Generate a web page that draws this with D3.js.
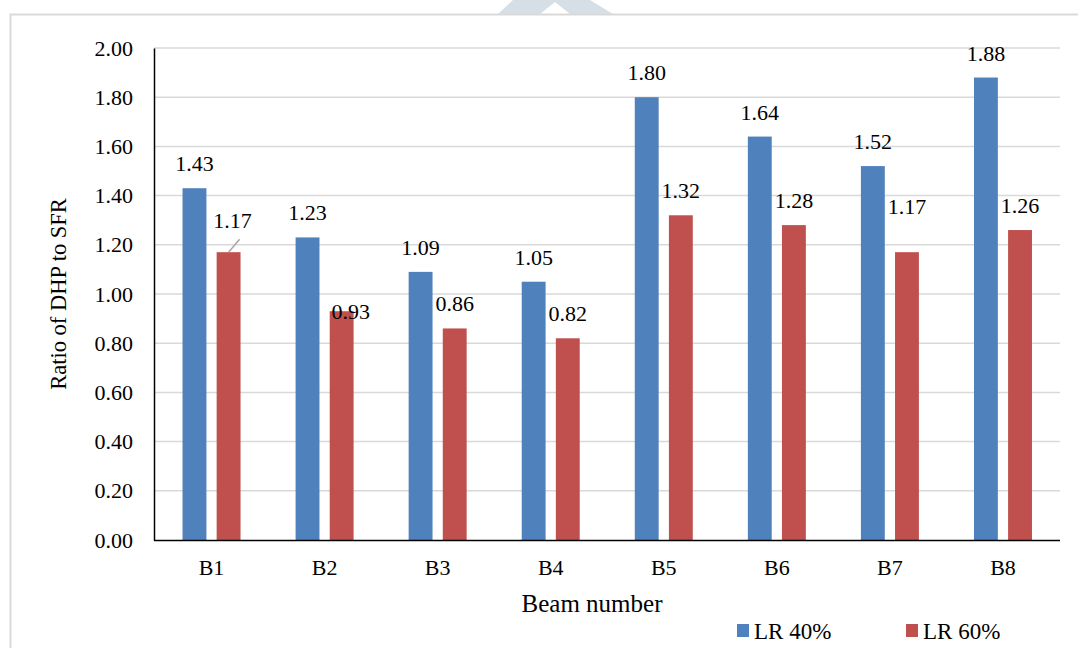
<!DOCTYPE html>
<html>
<head>
<meta charset="utf-8">
<script src="https://cdn.jsdelivr.net/npm/d3@7"></script>
<style>
  html, body { margin: 0; padding: 0; background: #fff; }
  svg { display: block; }
  text { font-family: "Liberation Serif", "Times New Roman", serif; fill: #000; }
</style>
</head>
<body>
<svg id="chart" width="1078" height="648"></svg>
<script>
// Ratio of DHP to SFR for each beam, at two load ratios
const beams = ["B1", "B2", "B3", "B4", "B5", "B6", "B7", "B8"];
const seriesNames = ["LR 40%", "LR 60%"];
const lr40 = [1.43, 1.23, 1.09, 1.05, 1.80, 1.64, 1.52, 1.88];
const lr60 = [1.17, 0.93, 0.86, 0.82, 1.32, 1.28, 1.17, 1.26];
const yTicks = [0, 0.2, 0.4, 0.6, 0.8, 1.0, 1.2, 1.4, 1.6, 1.8, 2.0];

const colors = { "LR 40%": "#4f81bd", "LR 60%": "#c0504d" };

// labels that were dragged away from their default spot: [series, beam] -> shift
const labelShift = {
  "LR 60%|B1": { dx: 4, dy: -7, leader: true },
  "LR 60%|B2": { dx: 9, dy: 25 },
  "LR 60%|B7": { dx: 0, dy: -21 }
};

const rows = beams.map((b, i) => ({ beam: b, values: [lr40[i], lr60[i]] }));

const svg = d3.select("#chart");

// outer frame and faint emblem at the top
svg.append("polygon")
  .attr("points", "498,14 513,0 590,0 613,14 570,14 555,2 540,14")
  .attr("fill", "#d6dfe5");
svg.append("path")
  .attr("d", "M10.5,648 V14.5 H1078")
  .attr("fill", "none").attr("stroke", "#d9d9d9").attr("stroke-width", 2);

const x0 = d3.scaleBand().domain(beams).range([155, 1059.5]).padding(0);
const x1 = d3.scaleBand().domain(seriesNames).range([-29, 29]).paddingInner(0.3);
const y = d3.scaleLinear().domain([0, 2]).range([540, 48]);

// gridlines
svg.append("g")
  .selectAll("line")
  .data(yTicks.slice(1))
  .join("line")
  .attr("x1", 154).attr("x2", 1060)
  .attr("y1", d => y(d)).attr("y2", d => y(d))
  .attr("stroke", "#d9d9d9").attr("stroke-width", 1.5);

// bars
const groups = svg.append("g")
  .selectAll("g")
  .data(rows)
  .join("g")
  .attr("transform", d => `translate(${x0(d.beam) + x0.bandwidth() / 2},0)`);

groups.selectAll("rect")
  .data(d => d.values.map((v, k) => ({ beam: d.beam, series: seriesNames[k], value: v })))
  .join("rect")
  .attr("x", d => x1(d.series))
  .attr("width", x1.bandwidth())
  .attr("y", d => y(d.value))
  .attr("height", d => y(0) - y(d.value))
  .attr("fill", d => colors[d.series]);

// value labels
groups.each(function (row) {
  const g = d3.select(this);
  row.values.forEach((v, k) => {
    const s = seriesNames[k];
    const sh = labelShift[s + "|" + row.beam] || { dx: 0, dy: 0 };
    const barCx = x1(s) + x1.bandwidth() / 2;
    const baseY = y(v) - 17 + sh.dy;
    g.append("text")
      .attr("x", barCx + sh.dx).attr("y", baseY)
      .attr("text-anchor", "middle")
      .attr("font-size", 22)
      .text(v.toFixed(2));
    if (sh.leader) {
      g.append("line")
        .attr("x1", barCx).attr("y1", y(v))
        .attr("x2", barCx + 11).attr("y2", y(v) - 13)
        .attr("stroke", "#a6a6a6").attr("stroke-width", 1.5);
    }
  });
});

// y axis
const yAxis = svg.append("g")
  .attr("transform", "translate(154,0)")
  .call(d3.axisLeft(y).tickValues(yTicks).tickFormat(d3.format(".2f")).tickSize(0).tickPadding(21));
yAxis.select(".domain").attr("stroke", "#000").attr("stroke-width", 1.5);
yAxis.selectAll("text").attr("font-size", 22).attr("font-family", "Liberation Serif");

// x axis
const xAxis = svg.append("g")
  .attr("transform", "translate(0,540)")
  .call(d3.axisBottom(x0).tickSize(0).tickPadding(19));
xAxis.select(".domain").attr("d", "M154,0.5H1060").attr("stroke", "#000").attr("stroke-width", 1.5);
xAxis.selectAll("text").attr("font-size", 22).attr("font-family", "Liberation Serif");

// axis titles
svg.append("text")
  .attr("x", 592).attr("y", 612)
  .attr("text-anchor", "middle").attr("font-size", 25)
  .text("Beam number");
svg.append("text")
  .attr("transform", "translate(66,294) rotate(-90)")
  .attr("text-anchor", "middle").attr("font-size", 22.5)
  .text("Ratio of DHP to SFR");

// legend
const legendX = [737, 906];
const legend = svg.append("g")
  .selectAll("g")
  .data(seriesNames)
  .join("g")
  .attr("transform", (d, i) => `translate(${legendX[i]},624)`);
legend.append("rect")
  .attr("width", 12).attr("height", 13)
  .attr("fill", d => colors[d]);
legend.append("text")
  .attr("x", 17).attr("y", 15)
  .attr("font-size", 23)
  .text(d => d);
</script>
</body>
</html>
